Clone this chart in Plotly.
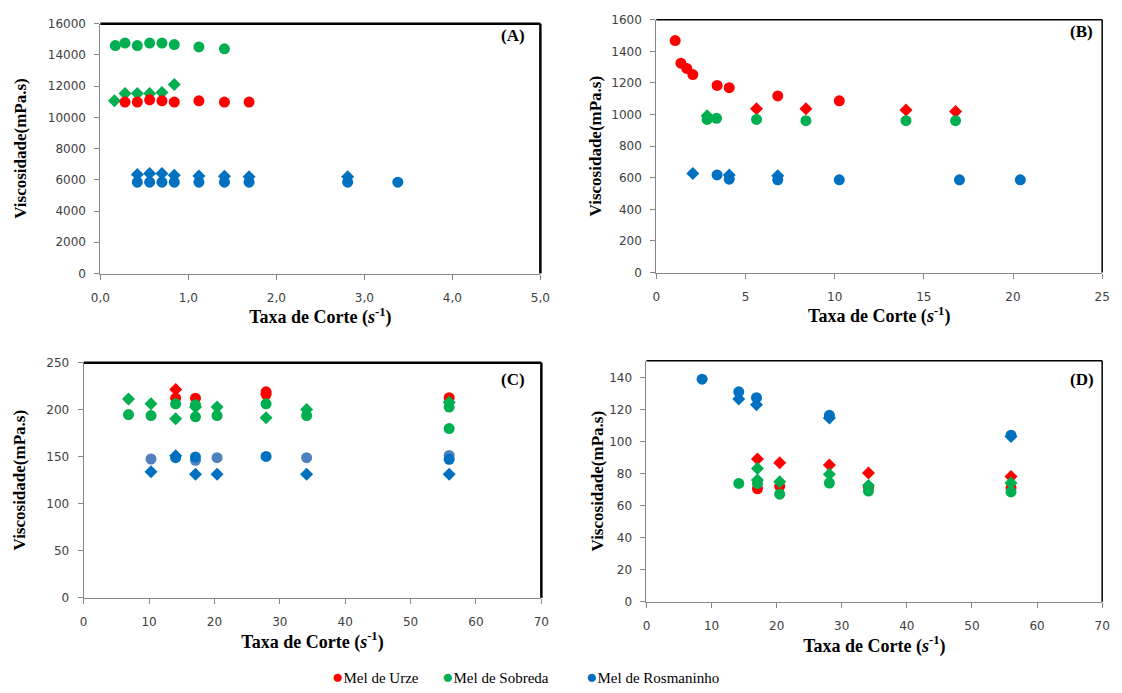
import plotly.graph_objects as go

RED = "#FF0000"
GREEN = "#00B050"
BLUE = "#0070C0"
LBLUE = "#4F81BD"

# ---------------- Panel A ----------------
A_urze_c_x = [0.28, 0.42, 0.56, 0.70, 0.84, 1.12, 1.41, 1.69]
A_urze_c_y = [10980, 10980, 11120, 11060, 10980, 11060, 10980, 10980]
A_sob_c_x = [0.17, 0.28, 0.42, 0.56, 0.70, 0.84, 1.12, 1.41]
A_sob_c_y = [14600, 14760, 14600, 14760, 14760, 14660, 14510, 14390]
A_sob_d_x = [0.16, 0.28, 0.42, 0.56, 0.70, 0.84]
A_sob_d_y = [11060, 11520, 11520, 11520, 11590, 12110]
A_ros_c_x = [0.42, 0.56, 0.70, 0.84, 1.12, 1.41, 1.69, 2.81, 3.38]
A_ros_c_y = [5850, 5850, 5850, 5850, 5850, 5850, 5850, 5850, 5850]
A_ros_d_x = [0.42, 0.56, 0.70, 0.84, 1.12, 1.41, 1.69, 2.81]
A_ros_d_y = [6340, 6400, 6400, 6290, 6250, 6230, 6190, 6190]

# ---------------- Panel B ----------------
B_urze_c_x = [1.06, 1.38, 1.71, 2.05, 3.41, 4.09, 6.81, 10.26]
B_urze_c_y = [1468, 1325, 1292, 1253, 1184, 1170, 1118, 1087]
B_urze_d_x = [5.62, 8.39, 14.0, 16.78]
B_urze_d_y = [1036, 1036, 1028, 1019]
B_sob_c_x = [2.85, 3.38, 5.62, 8.39, 14.0, 16.78]
B_sob_c_y = [969, 976, 969, 961, 961, 961]
B_sob_d_x = [2.85]
B_sob_d_y = [992]
B_ros_c_x = [3.41, 4.09, 6.81, 10.26, 17.0, 20.41]
B_ros_c_y = [618, 591, 587, 587, 587, 587]
B_ros_d_x = [2.05, 4.09, 6.81]
B_ros_d_y = [626, 618, 612]

# ---------------- Panel C ----------------
C_urze_c_x = [14.07, 17.1, 27.9, 27.9, 55.9]
C_urze_c_y = [212.2, 212.2, 219.0, 216.4, 212.8]
C_urze_d_x = [14.07]
C_urze_d_y = [221.5]
C_sob_c_x = [6.86, 10.3, 14.07, 17.1, 17.1, 20.4, 27.9, 34.1, 55.9, 55.9]
C_sob_c_y = [194.8, 193.8, 206.3, 192.4, 205.2, 193.8, 206.3, 193.8, 202.8, 179.9]
C_sob_d_x = [6.86, 10.3, 14.07, 17.1, 20.4, 27.9, 34.1, 55.9]
C_sob_d_y = [211.5, 206.3, 190.3, 203.0, 202.8, 191.4, 200.3, 208.0]
C_ros2_c_x = [10.3, 17.1, 20.4, 34.1, 55.9]
C_ros2_c_y = [147.6, 146.2, 149.0, 149.0, 151.4]
C_ros_c_x = [14.07, 17.1, 27.9, 55.9]
C_ros_c_y = [149.0, 149.7, 150.3, 147.2]
C_ros_d_x = [10.3, 14.07, 17.1, 20.4, 34.1, 55.9]
C_ros_d_y = [134.0, 151.0, 131.3, 131.3, 131.3, 131.3]

# ---------------- Panel D ----------------
D_urze_c_x = [17.05, 20.47, 34.1, 56.0]
D_urze_c_y = [70.5, 72.0, 71.5, 71.1]
D_urze_d_x = [17.05, 20.47, 28.1, 34.1, 56.0]
D_urze_d_y = [89.1, 86.8, 85.4, 80.3, 78.2]
D_sob_c_x = [14.18, 17.05, 20.47, 28.1, 34.1, 56.0]
D_sob_c_y = [73.8, 73.8, 67.1, 74.1, 69.1, 68.5]
D_sob_d_x = [17.05, 17.05, 20.47, 28.1, 34.1, 56.0]
D_sob_d_y = [83.1, 76.0, 74.8, 79.5, 72.6, 74.1]
D_ros_c_x = [8.55, 14.18, 16.9, 28.1, 56.0]
D_ros_c_y = [138.9, 131.0, 127.3, 116.3, 103.9]
D_ros_d_x = [14.18, 16.9, 28.1, 56.0]
D_ros_d_y = [126.5, 122.9, 114.7, 103.1]

panel_labels = ["(A)", "(B)", "(C)", "(D)"]
series_names = ["Mel de Urze", "Mel de Sobreda", "Mel de Rosmaninho"]
series_colors = [RED, GREEN, BLUE]

fig = go.Figure()

CSIZE = 11
DSIZE = 10


def add(x, y, color, symbol, axis):
    xa, ya = axis
    fig.add_trace(go.Scatter(
        x=x, y=y, mode="markers", xaxis=xa, yaxis=ya,
        marker=dict(color=color, symbol=symbol,
                    size=CSIZE if symbol == "circle" else DSIZE,
                    line=dict(width=0)),
        showlegend=False))

# Panel A
ax = ("x", "y")
add(A_sob_d_x, A_sob_d_y, GREEN, "diamond", ax)
add(A_ros_d_x, A_ros_d_y, BLUE, "diamond", ax)
add(A_urze_c_x, A_urze_c_y, RED, "circle", ax)
add(A_sob_c_x, A_sob_c_y, GREEN, "circle", ax)
add(A_ros_c_x, A_ros_c_y, BLUE, "circle", ax)
# Panel B
ax = ("x2", "y2")
add(B_urze_d_x, B_urze_d_y, RED, "diamond", ax)
add(B_sob_d_x, B_sob_d_y, GREEN, "diamond", ax)
add(B_ros_d_x, B_ros_d_y, BLUE, "diamond", ax)
add(B_urze_c_x, B_urze_c_y, RED, "circle", ax)
add(B_sob_c_x, B_sob_c_y, GREEN, "circle", ax)
add(B_ros_c_x, B_ros_c_y, BLUE, "circle", ax)
# Panel C
ax = ("x3", "y3")
add(C_urze_d_x, C_urze_d_y, RED, "diamond", ax)
add(C_ros_d_x, C_ros_d_y, BLUE, "diamond", ax)
add(C_urze_c_x, C_urze_c_y, RED, "circle", ax)
add(C_sob_d_x, C_sob_d_y, GREEN, "diamond", ax)
add(C_sob_c_x, C_sob_c_y, GREEN, "circle", ax)
add(C_ros2_c_x, C_ros2_c_y, LBLUE, "circle", ax)
add(C_ros_c_x, C_ros_c_y, BLUE, "circle", ax)
# Panel D
ax = ("x4", "y4")
add(D_urze_d_x, D_urze_d_y, RED, "diamond", ax)
add(D_ros_d_x, D_ros_d_y, BLUE, "diamond", ax)
add(D_ros_c_x, D_ros_c_y, BLUE, "circle", ax)
add(D_urze_c_x, D_urze_c_y, RED, "circle", ax)
add(D_sob_c_x, D_sob_c_y, GREEN, "circle", ax)
add(D_sob_d_x, D_sob_d_y, GREEN, "diamond", ax)

W, H = 1122, 693
TICKFONT = dict(family="DejaVu Sans", size=12, color="#404040")
XTITLE = "<b>Taxa de Corte (<i>s</i><sup>-1</sup>)</b>"
YTITLE = "<b>Viscosidade(mPa.s)</b>"


def xaxis(domain, rng, dtick, anchor, fmt=None):
    d = dict(domain=domain, range=rng, dtick=dtick, tick0=0, anchor=anchor,
             showline=True, linecolor="#868686", linewidth=1,
             ticks="outside", ticklen=5, tickcolor="#868686",
             ticklabelstandoff=8,
             showgrid=False, zeroline=False, tickfont=TICKFONT,
             title=dict(text=XTITLE, font=dict(family="Liberation Serif", size=18, color="black"),
                        standoff=1))
    if fmt:
        d["tickformat"] = fmt
    return d


def yaxis(domain, rng, dtick, anchor, standoff):
    return dict(domain=domain, range=rng, dtick=dtick, tick0=0, anchor=anchor,
                showline=True, linecolor="#868686", linewidth=1,
                ticks="outside", ticklen=5, tickcolor="#868686",
                ticklabelstandoff=6, tickformat="d",
                showgrid=False, zeroline=False, tickfont=TICKFONT,
                title=dict(text=YTITLE, font=dict(family="Liberation Serif", size=17, color="black"),
                           standoff=standoff))

dA = ([92 / W, 540 / W], [1 - 272 / H, 1 - 17 / H])
dB = ([658 / W, 1112 / W], [1 - 271 / H, 1 - 13 / H])
dC = ([75 / W, 541 / W], [1 - 603 / H, 1 - 363 / H])
dD = ([648 / W, 1112 / W], [1 - 607 / H, 1 - 361 / H])

fig.update_layout(
    width=W, height=H,
    margin=dict(l=0, r=0, t=0, b=0),
    paper_bgcolor="white", plot_bgcolor="white",
    separators=",.",
    xaxis=xaxis(dA[0], [0, 5], 1, "y", ".1f"),
    yaxis=yaxis(dA[1], [0, 16000], 2000, "x", 16),
    xaxis2=xaxis(dB[0], [0, 25], 5, "y2"),
    yaxis2=yaxis(dB[1], [0, 1600], 200, "x2", 5),
    xaxis3=xaxis(dC[0], [0, 70], 10, "y3"),
    yaxis3=yaxis(dC[1], [0, 250], 50, "x3", 16),
    xaxis4=xaxis(dD[0], [0, 70], 10, "y4"),
    yaxis4=yaxis(dD[1], [0, 150.4], 20, "x4", 1),
    showlegend=False,
)

# frame top/right lines
frames = [("x", "y", 2.5), ("x2", "y2", 1.5), ("x3", "y3", 2.5), ("x4", "y4", 1.5)]
shapes = []
for xa, ya, w in frames:
    shapes.append(dict(type="line", xref=f"{xa} domain", yref=f"{ya} domain",
                       x0=0, x1=1, y0=1, y1=1, line=dict(color="black", width=w)))
    shapes.append(dict(type="line", xref=f"{xa} domain", yref=f"{ya} domain",
                       x0=1, x1=1, y0=0, y1=1, line=dict(color="black", width=w)))
fig.update_layout(shapes=shapes)

label_pos = [(0.97, 0.954), (0.983, 0.953), (0.968, 0.93), (0.987, 0.92)]
for i, (xa, ya, _) in enumerate(frames):
    fig.add_annotation(text=f"<b>{panel_labels[i]}</b>", xref=f"{xa} domain", yref=f"{ya} domain",
                       x=label_pos[i][0], y=label_pos[i][1], xanchor="right", yanchor="middle",
                       showarrow=False, font=dict(family="Liberation Serif", size=17, color="black"))

# legend (bottom, as in the reference)
legend_x = [326, 438, 584]
for name, col, lx in zip(series_names, series_colors, legend_x):
    fig.add_annotation(text=f"<span style='color:{col};font-size:19px'>●</span>{name}",
                       xref="paper", yref="paper", x=lx / W, y=1 - 683 / H,
                       xanchor="left", yanchor="middle", showarrow=False,
                       font=dict(family="Liberation Serif", size=15, color="black"))

fig.write_html("out.html")
